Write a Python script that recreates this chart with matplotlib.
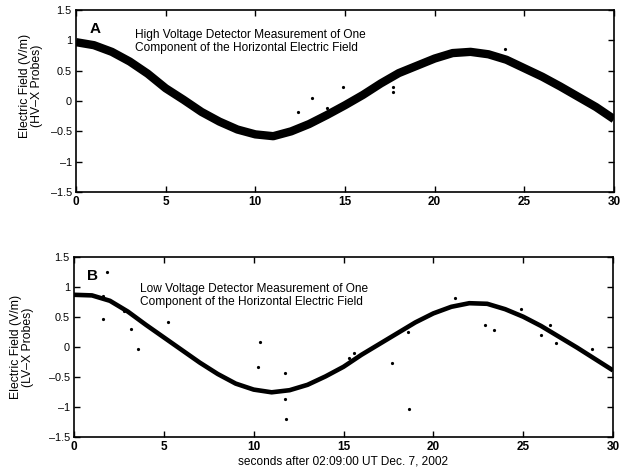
import matplotlib
matplotlib.use("Agg")
import matplotlib.pyplot as plt
from matplotlib.ticker import FuncFormatter

plt.rcParams['font.family'] = ['Liberation Sans', 'DejaVu Sans']

# ---- data ----
t_grid = list(range(0, 31))
hv_curve = [0.97, 0.92, 0.81, 0.65, 0.45, 0.21, 0.02, -0.18, -0.34, -0.47,
            -0.55, -0.58, -0.50, -0.38, -0.23, -0.07, 0.10, 0.29, 0.46, 0.58,
            0.70, 0.79, 0.81, 0.77, 0.68, 0.54, 0.40, 0.24, 0.07, -0.10, -0.30]
hv_out_t = [12.4, 13.17, 14.0, 14.9, 17.65, 17.65, 23.9]
hv_out_v = [-0.18, 0.05, -0.11, 0.23, 0.23, 0.15, 0.86]

lv_curve = [0.87, 0.86, 0.77, 0.59, 0.37, 0.16, -0.05, -0.26, -0.45, -0.61,
            -0.71, -0.755, -0.72, -0.63, -0.49, -0.33, -0.13, 0.05, 0.23, 0.41,
            0.56, 0.67, 0.73, 0.72, 0.63, 0.505, 0.35, 0.17, -0.01, -0.20, -0.39]
lv_out_t = [1.85, 1.63, 1.59, 2.8, 3.2, 3.57, 5.22, 10.35, 10.24, 11.76, 11.76, 11.81,
            15.28, 15.61, 17.72, 18.57, 18.67, 21.18, 22.87, 23.37, 24.87, 26.0,
            26.52, 26.85, 28.83]
lv_out_v = [1.25, 0.85, 0.47, 0.60, 0.30, -0.03, 0.42, 0.09, -0.34, -0.43, -0.86, -1.20,
            -0.18, -0.10, -0.26, 0.25, -1.03, 0.81, 0.36, 0.29, 0.64, 0.20,
            0.36, 0.07, -0.03]

xticks = [0, 5, 10, 15, 20, 25, 30]
yticks = [-1.5, -1, -0.5, 0, 0.5, 1, 1.5]

title_a = "High Voltage Detector Measurement of One\nComponent of the Horizontal Electric Field"
title_b = "Low Voltage Detector Measurement of One\nComponent of the Horizontal Electric Field"
ylabel_a = "Electric Field (V/m)\n(HV\u2013X Probes)"
ylabel_b = "Electric Field (V/m)\n(LV\u2013X Probes)"
xlabel = "seconds after 02:09:00 UT Dec. 7, 2002"

fig = plt.figure(figsize=(6.21, 4.71), dpi=100)
W, H = 621, 471
axA = fig.add_axes([76 / W, 1 - 192 / H, (614 - 76) / W, (192 - 10) / H])
axB = fig.add_axes([74 / W, 1 - 437 / H, (613 - 74) / W, (437 - 257) / H])

def fmt(v, pos):
    if abs(v - round(v)) < 1e-9:
        s = "%d" % round(v)
    else:
        s = "%g" % v
    return s.replace("-", "\u2013")

panels = [
    (axA, hv_curve, hv_out_t, hv_out_v, 6.0, "A", title_a, ylabel_a,
     (0.109, 0.895), (-0.061, 0.585)),
    (axB, lv_curve, lv_out_t, lv_out_v, 3.3, "B", title_b, ylabel_b,
     (0.122, 0.855), (-0.074, 0.5)),
]
for ax, curve, ot, ov, lw, lab, title, ylab, tpos, lpos in panels:
    ax.plot(t_grid, curve, color='black', lw=lw, solid_capstyle='butt',
            solid_joinstyle='round')
    ax.plot(ot, ov, 'o', color='black', ms=2.3, mew=0)
    ax.set_xlim(0, 30)
    ax.set_ylim(-1.5, 1.5)
    ax.set_xticks(xticks)
    ax.set_yticks(yticks)
    ax.yaxis.set_major_formatter(FuncFormatter(fmt))
    ax.tick_params(direction='in', top=True, right=True, length=4, width=1,
                   pad=3)
    for lbl in ax.get_xticklabels():
        lbl.set_fontsize(8.5)
        lbl.set_fontweight('bold')
    for lbl in ax.get_yticklabels():
        lbl.set_fontsize(7.8)
    for sp in ax.spines.values():
        sp.set_linewidth(1.2)
    ax.text(0.025, 0.935, lab, transform=ax.transAxes, fontsize=11,
            fontweight='bold', va='top', ha='left')
    ax.text(tpos[0], tpos[1], title, transform=ax.transAxes, fontsize=8.6,
            va='top', ha='left', linespacing=1.15)
    ax.set_ylabel(ylab, fontsize=8.8, linespacing=1.0)
    ax.yaxis.set_label_coords(lpos[0], lpos[1])

axB.set_xlabel(xlabel, fontsize=8.6, labelpad=2)

fig.savefig("out.png", dpi=100)
